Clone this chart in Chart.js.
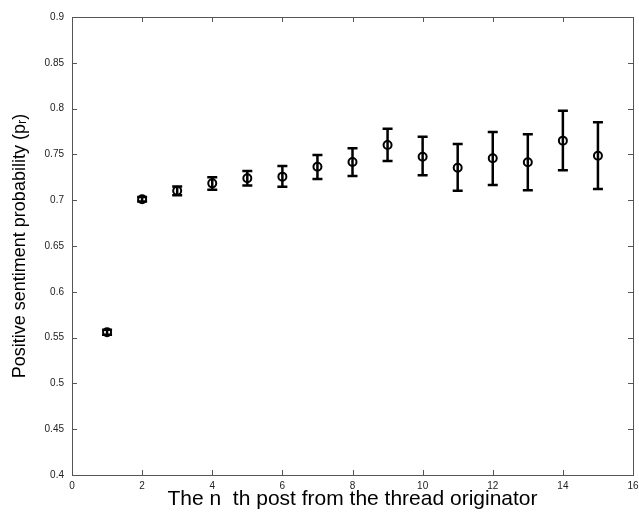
<!DOCTYPE html>
<html>
<head>
<meta charset="utf-8">
<script src="https://cdn.jsdelivr.net/npm/chart.js@4"></script>
<style>
  html, body { margin: 0; padding: 0; background: #fff; }
  #wrap { width: 639px; height: 514px; }
</style>
</head>
<body>
<div id="wrap"><canvas id="sentimentChart"></canvas></div>
<script>
// n-th post index and positive sentiment probability with error bounds
var postIndex = [1, 2, 3, 4, 5, 6, 7, 8, 9, 10, 11, 12, 13, 14, 15];
var meanProb = [0.5558, 0.7010, 0.7104, 0.7184, 0.7239, 0.7257, 0.7366, 0.7417, 0.7603, 0.7475, 0.7355, 0.7457, 0.7414, 0.7650, 0.7486];
var lowerProb = [0.5530, 0.6985, 0.7055, 0.7115, 0.7160, 0.7147, 0.7231, 0.7264, 0.7428, 0.7272, 0.7104, 0.7166, 0.7108, 0.7326, 0.7122];
var upperProb = [0.5586, 0.7035, 0.7150, 0.7250, 0.7320, 0.7373, 0.7493, 0.7566, 0.7780, 0.7693, 0.7614, 0.7745, 0.7719, 0.7977, 0.7850];

var points = postIndex.map(function (x, i) {
  return { x: x, y: meanProb[i] };
});

// error bars, drawn under the circles
var errorBars = {
  id: "errorBars",
  beforeDatasetsDraw: function (chart) {
    var ctx = chart.ctx;
    var xs = chart.scales.x, ys = chart.scales.y;
    ctx.save();
    ctx.strokeStyle = "#000";
    ctx.lineWidth = 2.5;
    for (var i = 0; i < postIndex.length; i++) {
      var px = xs.getPixelForValue(postIndex[i]);
      var lo = ys.getPixelForValue(lowerProb[i]);
      var hi = ys.getPixelForValue(upperProb[i]);
      ctx.beginPath();
      ctx.moveTo(px, lo); ctx.lineTo(px, hi);
      ctx.moveTo(px - 5, lo); ctx.lineTo(px + 5, lo);
      ctx.moveTo(px - 5, hi); ctx.lineTo(px + 5, hi);
      ctx.stroke();
    }
    ctx.restore();
  }
};

// matlab style box with inward ticks
var boxFrame = {
  id: "boxFrame",
  afterDraw: function (chart) {
    var ctx = chart.ctx, a = chart.chartArea;
    var xs = chart.scales.x, ys = chart.scales.y;
    var len = 5;
    ctx.save();
    ctx.strokeStyle = "#555";
    ctx.lineWidth = 1;
    ctx.strokeRect(Math.round(a.left) + 0.5, Math.round(a.top) + 0.5,
      Math.round(a.right - a.left), Math.round(a.bottom - a.top));
    ctx.beginPath();
    xs.ticks.forEach(function (t) {
      var px = Math.round(xs.getPixelForValue(t.value)) + 0.5;
      ctx.moveTo(px, a.bottom); ctx.lineTo(px, a.bottom - len);
      ctx.moveTo(px, a.top); ctx.lineTo(px, a.top + len);
    });
    ys.ticks.forEach(function (t) {
      var py = Math.round(ys.getPixelForValue(t.value)) + 0.5;
      ctx.moveTo(a.left, py); ctx.lineTo(a.left + len, py);
      ctx.moveTo(a.right, py); ctx.lineTo(a.right - len, py);
    });
    ctx.stroke();
    ctx.restore();
  }
};

var ctx = document.getElementById("sentimentChart").getContext("2d");
var sentimentChart = new Chart(ctx, {
  type: "scatter",
  data: {
    datasets: [
      {
        data: points,
        pointStyle: "circle",
        pointRadius: 4,
        pointBorderWidth: 2,
        pointBackgroundColor: "rgba(0,0,0,0)",
        pointBorderColor: "#000",
        showLine: false,
      },
    ],
  },
  options: {
    responsive: true,
    maintainAspectRatio: false,
    animation: false,
    layout: { padding: { top: 17, right: 5, left: 0, bottom: 0 } },
    plugins: {
      legend: { display: false },
      tooltip: { enabled: false },
    },
    scales: {
      x: {
        type: "linear",
        min: 0,
        max: 16,
        grid: { display: false, drawTicks: false },
        border: { display: false },
        ticks: {
          stepSize: 2,
          padding: 5,
          color: "#222",
          maxRotation: 0,
          font: { family: "Liberation Sans", size: 10 },
        },
        title: {
          display: true,
          text: "The n  th post from the thread originator",
          color: "#000",
          padding: { top: 0, bottom: 2 },
          font: { family: "Liberation Sans", size: 21 },
        },
        afterFit: function (s) {
          s.height = 39;
          s.paddingLeft = 0;
          s.paddingRight = 0;
        },
      },
      y: {
        min: 0.4,
        max: 0.9,
        grid: { display: false, drawTicks: false },
        border: { display: false },
        ticks: {
          stepSize: 0.05,
          padding: 8,
          color: "#222",
          font: { family: "Liberation Sans", size: 10 },
          callback: function (v) {
            return String(Math.round(v * 100) / 100);
          },
        },
        title: {
          display: true,
          text: "Positive sentiment probability (pᵣ)",
          color: "#000",
          padding: { top: 9, bottom: 0 },
          font: { family: "Liberation Sans", size: 18 },
        },
        afterFit: function (s) {
          s.width = 72;
        },
      },
    },
  },
  plugins: [errorBars, boxFrame],
});
</script>
</body>
</html>
